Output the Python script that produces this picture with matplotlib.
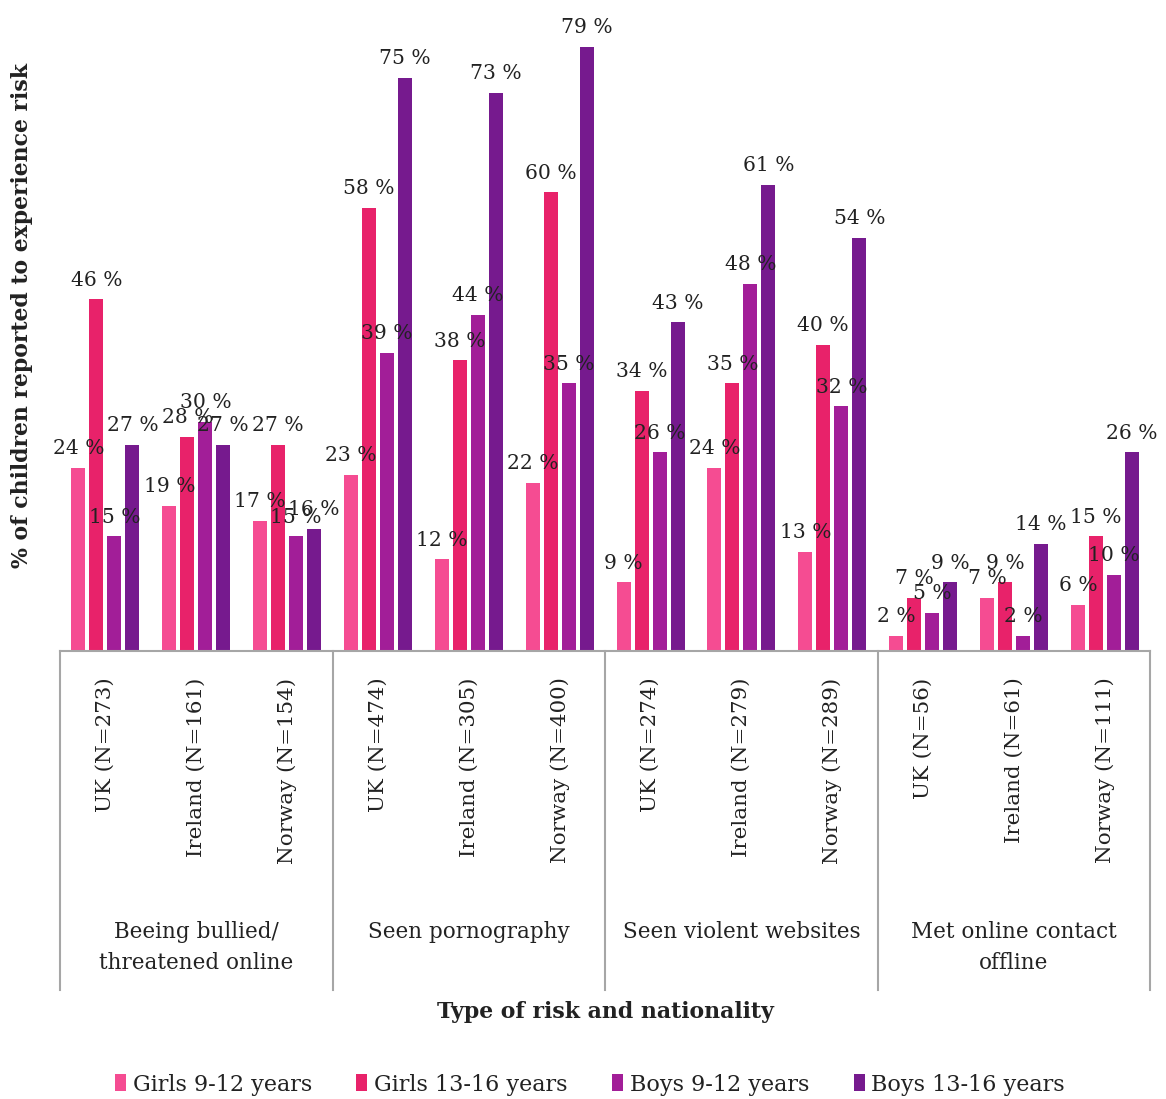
"""Grouped bars: share of children reporting each online risk, by country, sex and age."""
import numpy as np
import matplotlib
matplotlib.use("Agg")
import matplotlib.pyplot as plt
from matplotlib.transforms import blended_transform_factory

risks = ["Beeing bullied/\nthreatened online", "Seen pornography",
         "Seen violent websites", "Met online contact\noffline"]
countries = [
    "UK (N=273)", "Ireland (N=161)", "Norway (N=154)",
    "UK (N=474)", "Ireland (N=305)", "Norway (N=400)",
    "UK (N=274)", "Ireland (N=279)", "Norway (N=289)",
    "UK (N=56)", "Ireland (N=61)", "Norway (N=111)",
]
series = ["Girls 9-12 years", "Girls 13-16 years", "Boys 9-12 years", "Boys 13-16 years"]
girls_9_12 = [24, 19, 17, 23, 12, 22, 9, 24, 13, 2, 7, 6]
girls_13_16 = [46, 28, 27, 58, 38, 60, 34, 35, 40, 7, 9, 15]
boys_9_12 = [15, 30, 15, 39, 44, 35, 26, 48, 32, 5, 2, 10]
boys_13_16 = [27, 27, 16, 75, 73, 79, 43, 61, 54, 9, 14, 26]
colors = ["#f54c92", "#e8226a", "#a21e98", "#761a8e"]

plt.rcParams["font.family"] = "DejaVu Serif"
TXT = "#222222"
LINE = "#a6a6a6"

fig = plt.figure(figsize=(11.66, 10.99), dpi=100)
ax = fig.add_axes([0.0515, 0.4076, 0.935, 0.574])

x = np.arange(len(countries))
step, width = 0.198, 0.154
for k, (vals, col) in enumerate(zip([girls_9_12, girls_13_16, boys_9_12, boys_13_16], colors)):
    xs = x + (k - 1.5) * step
    ax.bar(xs, vals, width, color=col, label=series[k])
    for xi, v in zip(xs, vals):
        ax.annotate(f"{v} %", (xi, v), xytext=(0, 7), textcoords="offset points",
                    ha="center", va="bottom", fontsize=14.6, color=TXT)

ax.set_xlim(-0.5, len(countries) - 0.5)
ax.set_ylim(0, 82.5)
ax.set_yticks([])
for s in ["left", "right", "top"]:
    ax.spines[s].set_visible(False)
ax.spines["bottom"].set_color(LINE)
ax.spines["bottom"].set_linewidth(1.5)

ax.set_xticks(x)
ax.set_xticklabels(countries, rotation=90, fontsize=15.4, color=TXT, va="top")
ax.tick_params(axis="x", length=0, pad=19)

# bracket lines and category names under the country labels
tr = blended_transform_factory(ax.transData, ax.transAxes)
for b in np.arange(-0.5, len(countries), 3):
    ax.plot([b, b], [0, -0.537], transform=tr, color=LINE, lw=1.5, clip_on=False)
for g, name in enumerate(risks):
    ax.text(3 * g + 1, -0.428, name, transform=tr, ha="center", va="top",
            fontsize=15.5, color=TXT, linespacing=1.5)

fig.text(0.519, 0.079, "Type of risk and nationality", ha="center", va="center",
         fontsize=15.8, fontweight="bold", color=TXT)
fig.text(0.019, 0.713, "% of children reported to experience risk", rotation=90,
         ha="center", va="center", fontsize=15.8, fontweight="bold", color=TXT)

fig.legend(loc="center", bbox_to_anchor=(0.506, 0.013), ncol=4, frameon=False,
           fontsize=16, handlelength=0.5, handleheight=0.8, handletextpad=0.3,
           columnspacing=2.0, labelcolor=TXT)

fig.savefig("out.png", dpi=100)
